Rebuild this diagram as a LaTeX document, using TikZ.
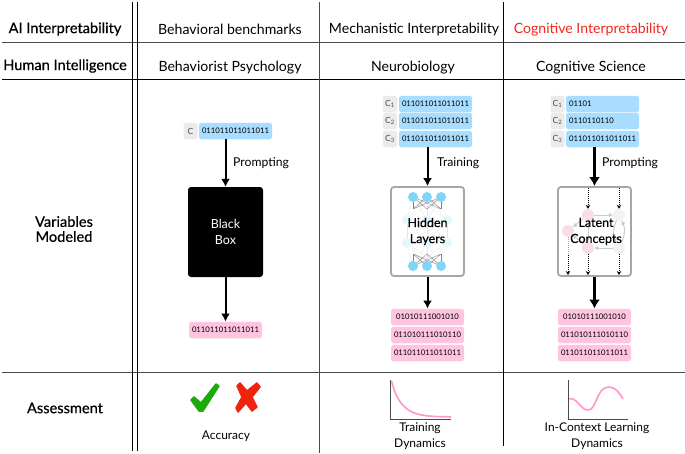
\documentclass[tikz,border=0pt]{standalone}
\usepackage{fontspec}
\setmainfont{Lato}
\newfontfamily\medfont[FakeBold=0.5]{Lato}
\usetikzlibrary{arrows.meta,calc}
\definecolor{chipc}{HTML}{EBEBEB}
\definecolor{bluec}{HTML}{A8DDFF}
\definecolor{pinkc}{HTML}{FFC5E0}
\definecolor{neuron}{HTML}{7FD4F8}
\definecolor{paleblue}{HTML}{E6F6FD}
\definecolor{palepink}{HTML}{FBDDE9}
\definecolor{palegrey}{HTML}{F2F2F2}
\definecolor{curvec}{HTML}{FF9ACB}
\definecolor{rulec}{HTML}{4A4A4A}
\tikzset{
  rulex/.style={draw=rulec,line width=1pt},
  ruley/.style={draw=black,line width=0.9pt},
  lab/.style={font=\fontsize{14.1}{15}\selectfont,inner sep=0pt,anchor=center,yshift=-1.2pt},
  side/.style={font=\fontsize{12.2}{15}\selectfont,inner sep=0pt,anchor=west},
  small/.style={font=\fontsize{12}{16}\selectfont,inner sep=0pt,anchor=center,align=center},
  head/.style={font=\fontsize{14.6}{15}\selectfont\medfont,inner sep=0pt,anchor=center,align=center},
  chip/.style={fill=chipc,rounded corners=2.5pt,minimum width=14pt,minimum height=16.5pt,inner sep=0pt,font=\fontsize{8.5}{9}\selectfont,text=black!70},
  bits/.style={rounded corners=2.5pt,minimum width=73pt,minimum height=16.5pt,inner sep=0pt,font=\fontsize{7.7}{9}\selectfont},
  bluebits/.style={bits,fill=bluec},
  pinkbits/.style={bits,fill=pinkc},
  flow/.style={-{Latex[length=8pt,width=9pt]},line width=2pt,black},
  flowb/.style={-{Latex[length=9pt,width=11pt]},line width=2.6pt,black},
  dot/.style={-{Stealth[length=4pt,width=4.5pt]},densely dotted,line width=1pt,black},
  frame/.style={draw=black!35,line width=1.8pt,rounded corners=3pt,minimum width=73pt,minimum height=89pt,inner sep=0pt},
  neu/.style={circle,fill=neuron,minimum size=10pt,inner sep=0pt},
  pale/.style={circle,fill=paleblue,minimum size=10pt,inner sep=0pt},
  cpt/.style={circle,minimum size=12pt,inner sep=0pt},
  cedge/.style={-{Latex[length=4pt,width=5pt]},draw=black!20,line width=1pt},
  net/.style={draw=black!50,line width=0.4pt},
  palenet/.style={draw=black!10,line width=0.3pt},
  axisl/.style={draw=rulec,line width=1pt},
  curve/.style={draw=curvec,line width=1.7pt},
  inbox/.style={font=\fontsize{12.5}{16}\selectfont\medfont,align=center,inner sep=0pt},
}
\begin{document}
\begin{tikzpicture}[x=1pt,y=-1pt]
\useasboundingbox (0,0) rectangle (685,453);
% rules
\coordinate (h1l) at (2,42); \coordinate (h1r) at (685,42);
\coordinate (h2l) at (2,79); \coordinate (h2r) at (685,79);
\coordinate (h3l) at (2,372); \coordinate (h3r) at (685,372);
\draw[rulex] (h1l) -- (h1r);
\draw[draw=black,line width=0.9pt] (h2l) -- (h2r);
\draw[rulex] (h3l) -- (h3r);
\coordinate (v1t) at (132.6,2); \coordinate (v1b) at (132.6,451);
\coordinate (v2t) at (137.2,2); \coordinate (v2b) at (137.2,451);
\coordinate (v3t) at (319,2); \coordinate (v3b) at (319,453);
\coordinate (v4t) at (503.5,2); \coordinate (v4b) at (503.5,446);
\draw[ruley] (v1t) -- (v1b);
\draw[ruley] (v2t) -- (v2b);
\draw[rulex] (v3t) -- (v3b);
\draw[ruley] (v4t) -- (v4b);
% headers
\node[head] (ai) at (65,29) {AI Interpretability};
\node[head] (hi) at (65,66) {Human Intelligence};
\node[head] (vm) at (64,229) {Variables\\[0pt]Modeled};
\node[head] (as) at (65,408) {Assessment};
\node[lab] (bb) at (230,28) {Behavioral benchmarks};
\node[lab] (bp) at (230,66) {Behaviorist Psychology};
\node[lab] (mi) at (414,28) {Mechanistic Interpretability};
\node[lab] (nb) at (413,66) {Neurobiology};
\node[lab,text={rgb,255:red,240;green,40;blue,30}] (ci) at (591,28) {Cognitive Interpretability};
\node[lab] (cs) at (591,66) {Cognitive Science};
% column 1
\node[chip] (c0) at (190.5,131) {C};
\node[bluebits] (b0) at (235.5,131) {011011011011011};
\node[fill=black,rounded corners=3pt,minimum width=75pt,minimum height=90pt,inner sep=0pt,text=white,font=\fontsize{12.5}{16}\selectfont,align=center] (bx) at (225.5,232) {Black\\Box};
\node[pinkbits] (p0) at (225.5,330) {011011011011011};
\draw[flow] (bx.north |- b0.south) -- (bx.north);
\draw[flow] (bx.south) -- (p0.north);
\node[side] (pr1) at (233,163) {Prompting};
% column 2
\foreach \i/\y/\t in {1/104/1,2/121/2,3/139/3}{
  \node[chip] (ca\i) at (390,\y) {C\textsubscript{\t}};
  \node[bluebits] (ba\i) at (435.5,\y) {011011011011011};
}
\node[frame] (fa) at (427.5,231.5) {};
\draw[flow] (fa.north |- ba3.south) -- (fa.north);
\foreach \i/\x in {1/413,2/427,3/441}{
  \coordinate (t\i) at (\x,197);
  \coordinate (u\i) at (\x,266);
}
\foreach \i/\x in {1/407,2/427,3/447}{
  \node[pale] (m\i) at (\x,220) {};
  \node[pale] (n\i) at (\x,243) {};
}
\foreach \i in {1,2,3}{\foreach \j in {1,2,3}{
  \draw[palenet] (m\i) -- (n\j);
  \draw[net] (t\i) -- ($(t\j)+(0,12)$);
  \draw[net] (u\i) -- ($(u\j)+(0,-12)$);
  \draw[palenet] (t\i) -- (m\j);
  \draw[palenet] (u\i) -- (n\j);
}}
\foreach \i in {1,2,3}{\node[neu] at (t\i) {}; \node[neu] at (u\i) {};}
\node[inbox] (hl) at (427.5,231.5) {Hidden\\Layers};
\foreach \i/\y/\t in {1/317/01010111001010,2/335/011010111010110,3/353/011011011011011}{
  \node[pinkbits] (pa\i) at (427.5,\y) {\t};
}
\draw[flow] (fa.south) -- (pa1.north);
\node[side] (tr) at (437,163) {Training};
% column 3
\foreach \i/\y/\t/\s in {1/104/1/01101,2/121/2/0110110110,3/139/3/011011011011011}{
  \node[chip] (cb\i) at (557.5,\y) {C\textsubscript{\t}};
  \node[bluebits] (bb\i) at (602.5,\y) {};
  \node[font=\fontsize{7.7}{9}\selectfont,inner sep=0pt,anchor=west] at (569,\y) {\s};
}
\node[frame] (fb) at (594.5,231.5) {};
\draw[flowb] (fb.north |- bb3.south) -- (fb.north);
\node[cpt,fill=palepink] (k1) at (588,215) {};
\node[cpt,fill=palepink] (k2) at (568,231) {};
\node[cpt,fill=palepink] (k3) at (588,248) {};
\node[cpt,fill=palegrey] (k4) at (619,215) {};
\node[cpt,fill=palegrey] (k5) at (619,248) {};
\draw[cedge] (k1) -- (k4);
\draw[cedge] (k5) -- (k3);
\draw[cedge] (k1) -- (k2);
\draw[cedge] (k3) -- (k2);
\draw[cedge] (k1) -- (k3);
\draw[cedge] (k4) to[bend right=25] (k5);
\draw[cedge] (k5) to[bend right=25] (k4);
\coordinate (d1) at (588,188); \coordinate (d2) at (619,188);
\coordinate (e1) at (568,275); \coordinate (e2) at (588,275); \coordinate (e3) at (619,275);
\coordinate (e0) at (568,255);
\draw[dot] (d1) -- (k1.north);
\draw[dot] (d2) -- (k4.north);
\draw[densely dotted,line width=1pt,draw=black!35] (k2) -- (e0);
\draw[dot] (e0) -- (e1);
\draw[dot] (k3) -- (e2);
\draw[dot] (k5) -- (e3);
\node[inbox] (lc) at (596,231.5) {Latent\\Concepts};
\foreach \i/\y/\t in {1/317/01010111001010,2/335/011010111010110,3/353/011011011011011}{
  \node[pinkbits] (pb\i) at (594.5,\y) {\t};
}
\draw[flowb] (fb.south) -- (pb1.north);
\node[side] (pr2) at (602,163) {Prompting};
% assessment
\fill[fill={rgb,255:red,30;green,170;blue,10},draw={rgb,255:red,30;green,170;blue,10},line width=1.5pt,line join=round]
  (191,400) -- (194,397) -- (201,403) -- (216,384) -- (219,386) -- (203,411) -- (199,411) -- cycle;
\fill[fill={rgb,255:red,240;green,35;blue,15},draw={rgb,255:red,240;green,35;blue,15},line width=1.5pt,line join=round]
  (240,383) -- (247,391) -- (257,383) -- (260,387) -- (252,397) -- (257,407) -- (252,411) -- (246,403) -- (238,412) -- (236,408) -- (242,397) -- (237,386) -- cycle;
\node[small] (acc) at (226,436) {Accuracy};
% plots
\coordinate (o1) at (390,419); \coordinate (ot1) at (390,380); \coordinate (ox1) at (451,419);
\draw[curve] (391.5,381) .. controls (397,402) and (405,413) .. (425,415.5) .. controls (435,417) and (443,416.5) .. (451,417);
\draw[axisl] (ot1) -- (o1) -- (ox1);
\node[small] (td) at (420,436) {Training\\Dynamics};
\coordinate (o2) at (568,419); \coordinate (ot2) at (568,380); \coordinate (ox2) at (628,419);
\draw[curve] (568,399) .. controls (577,396) and (580,410) .. (588,410) .. controls (597,410) and (596,387) .. (609,387) .. controls (616,387) and (620,394) .. (623,399);
\draw[axisl] (ot2) -- (o2) -- (ox2);
\node[small] (il) at (597,436) {In-Context Learning\\Dynamics};
\end{tikzpicture}
\end{document}
